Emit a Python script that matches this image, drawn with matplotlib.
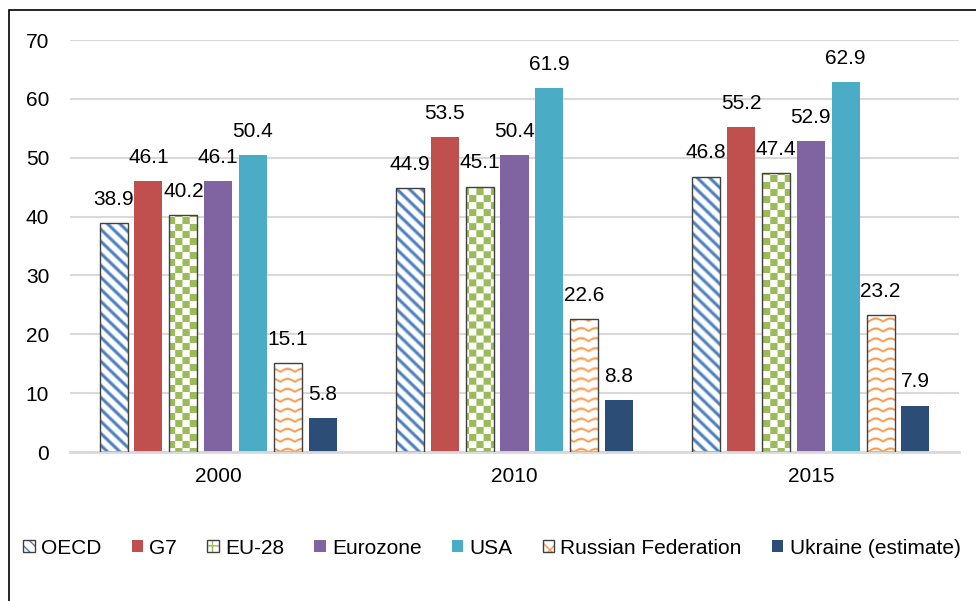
import numpy as np
import matplotlib
matplotlib.use("Agg")
import matplotlib.pyplot as plt
from matplotlib.patches import Rectangle, Patch

plt.rcParams['font.family'] = ['Liberation Sans', 'DejaVu Sans']

# data
years = ['2000', '2010', '2015']
series = ['OECD', 'G7', 'EU-28', 'Eurozone', 'USA', 'Russian Federation', 'Ukraine (estimate)']
oecd = [38.9, 44.9, 46.8]
g7 = [46.1, 53.5, 55.2]
eu28 = [40.2, 45.1, 47.4]
eurozone = [46.1, 50.4, 52.9]
usa = [50.4, 61.9, 62.9]
russia = [15.1, 22.6, 23.2]
ukraine = [5.8, 8.8, 7.9]
values = [oecd, g7, eu28, eurozone, usa, russia, ukraine]

colors = ['#4A7EBB', '#C0504D', '#9BBB59', '#8064A2', '#4BACC6', '#F79646', '#2C4D75']
patterns = ['stripes', None, 'checker', None, None, 'wave', None]

W, H, DPI = 976, 601, 100
fig = plt.figure(figsize=(W / DPI, H / DPI), dpi=DPI)
ax = fig.add_axes([70 / W, 1 - 452 / H, 889 / W, 412 / H])

# outer frame of the chart area
fig.patches.append(Rectangle((9 / W, -0.1), 1.2, 1 - 10 / H + 0.1, transform=fig.transFigure,
                             fill=False, edgecolor='black', linewidth=1.2))

x = np.arange(len(years))
slot = 0.1176
bw = 0.0946
ax.set_xlim(-0.5, 2.5)
ax.set_ylim(0, 70)


def texture(kind, color, X, Y):
    # X, Y are figure pixel coords (Y measured downward)
    rgb = np.array(matplotlib.colors.to_rgb(color))
    if kind == 'stripes':
        d = np.mod(X - Y, 12.0)
        m = np.clip(1 - np.abs(d - 3.0) / 3.2, 0, 1) * 1.5
    elif kind == 'checker':
        m = (np.floor(X / 7.0) + np.floor(Y / 7.0)) % 2
    else:
        yy = Y + 3.0 * np.abs(np.sin(np.pi * X / 14.0))
        d = np.mod(yy, 10.0)
        m = np.clip(1 - np.abs(d - 2.0) / 1.8, 0, 1) * 1.2
    m = np.clip(m, 0, 1)[..., None]
    return m * rgb + (1 - m) * np.ones(3)


fig.canvas.draw()
for i, (name, vals) in enumerate(zip(series, values)):
    pos = x + (i - 3) * slot
    pat = patterns[i]
    if pat is None:
        bars = ax.bar(pos, vals, width=bw, color=colors[i], zorder=2)
    else:
        bars = ax.bar(pos, vals, width=bw, facecolor='none', edgecolor='#404040',
                      linewidth=1.0, zorder=3)
        for b in bars:
            x0, x1 = b.get_x(), b.get_x() + b.get_width()
            y0, y1 = 0, b.get_height()
            (px0, py0), (px1, py1) = ax.transData.transform([(x0, y0), (x1, y1)])
            nx, ny = max(int(round(px1 - px0)), 1), max(int(round(py1 - py0)), 1)
            X, Y = np.meshgrid(px0 + np.arange(nx) + 0.5, (H - py1) + np.arange(ny) + 0.5)
            img = texture(pat, colors[i], X, Y)
            im = ax.imshow(img, extent=(x0, x1, y0, y1), aspect='auto',
                           interpolation='bilinear', zorder=2.5)
            im.set_clip_path(b)
    for b, v in zip(bars, vals):
        ax.annotate(f'{v:.1f}', (b.get_x() + b.get_width() / 2, v), xytext=(0, 13),
                    textcoords='offset points', ha='center', va='baseline', fontsize=15)

ax.set_aspect('auto')
ax.set_xlim(-0.5, 2.5)
ax.set_ylim(0, 70)
ax.set_yticks(range(0, 71, 10))
ax.set_xticks(x)
ax.set_xticklabels(years)
ax.tick_params(axis='both', length=0, labelsize=15)
ax.tick_params(axis='y', pad=15)
ax.tick_params(axis='x', pad=11)
ax.grid(axis='y', color='#D9D9D9', linewidth=1.5, zorder=0)
ax.set_axisbelow(True)
for s in ['top', 'right', 'left']:
    ax.spines[s].set_visible(False)
ax.spines['bottom'].set_color('#D9D9D9')
ax.spines['bottom'].set_linewidth(2)

hatches = ['\\\\\\', None, '++', None, None, 'xx', None]
handles = []
for i, name in enumerate(series):
    if patterns[i] is None:
        handles.append(Patch(facecolor=colors[i], edgecolor='none', label=name))
    else:
        handles.append(Patch(facecolor='white', edgecolor='#404040', hatch=hatches[i], label=name))
leg = fig.legend(handles=handles, loc='center', bbox_to_anchor=(0.504, 1 - 548 / H), ncol=7,
                 frameon=False, fontsize=15, handlelength=0.55, handleheight=0.55,
                 handletextpad=0.3, columnspacing=1.45)
for i, p in enumerate(leg.get_patches()):
    if patterns[i] is not None:
        p._hatch_color = matplotlib.colors.to_rgba(colors[i])

fig.savefig('out.png', dpi=DPI)
